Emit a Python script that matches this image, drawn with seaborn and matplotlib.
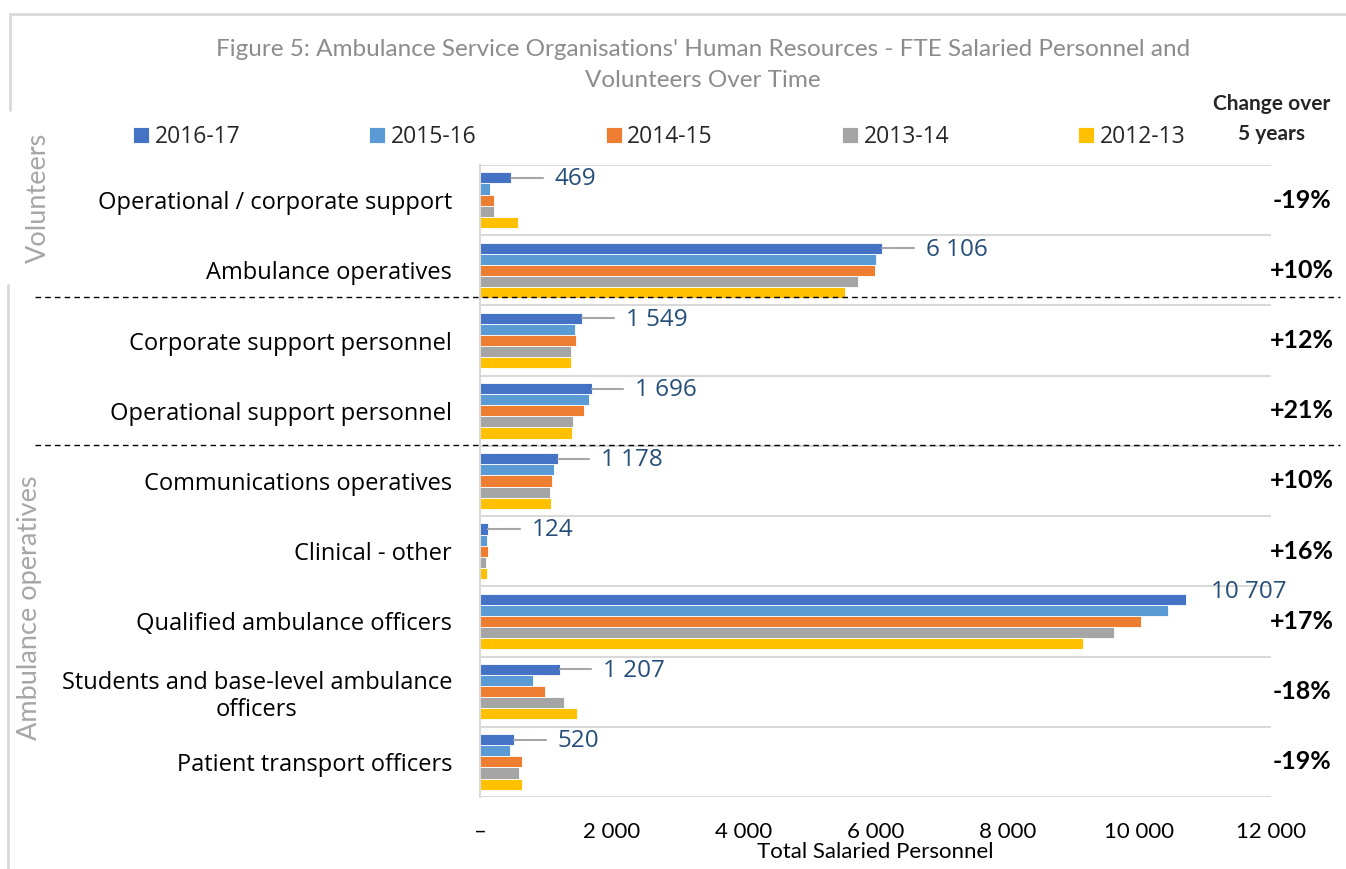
import numpy as np
import pandas as pd
import matplotlib
matplotlib.use("Agg")
import matplotlib.pyplot as plt
import matplotlib.transforms as mtrans
from matplotlib.lines import Line2D
import seaborn as sns

categories = ["Operational / corporate support", "Ambulance operatives",
              "Corporate support personnel", "Operational support personnel",
              "Communications operatives", "Clinical - other",
              "Qualified ambulance officers",
              "Students and base-level ambulance\nofficers",
              "Patient transport officers"]
years = ["2016-17", "2015-16", "2014-15", "2013-14", "2012-13"]
fte_2016_17 = [469, 6106, 1549, 1696, 1178, 124, 10707, 1207, 520]
fte_2015_16 = [150, 6010, 1440, 1650, 1120, 110, 10440, 800, 455]
fte_2014_15 = [210, 5985, 1455, 1575, 1090, 125, 10030, 985, 640]
fte_2013_14 = [210, 5740, 1380, 1410, 1060, 95, 9620, 1270, 590]
fte_2012_13 = [579, 5530, 1383, 1402, 1071, 107, 9151, 1472, 642]
change_5y = ["-19%", "+10%", "+12%", "+21%", "+10%", "+16%", "+17%", "-18%", "-19%"]
colors = ["#4472C4", "#5B9BD5", "#ED7D31", "#A5A5A5", "#FFC000"]

df = pd.DataFrame({
    "category": np.tile(categories, len(years)),
    "year": np.repeat(years, len(categories)),
    "fte": np.concatenate([fte_2016_17, fte_2015_16, fte_2014_15, fte_2013_14, fte_2012_13]),
})

sns.set_theme(style="white")
plt.rcParams["font.family"] = ["Open Sans", "DejaVu Sans"]

fig = plt.figure(figsize=(13.46, 8.69), dpi=100)
ax = fig.add_axes([480 / 1346, 1 - 797 / 869, 791 / 1346, 632 / 869])

sns.barplot(data=df, x="fte", y="category", hue="year", hue_order=years,
            palette=colors, orient="h", width=0.79, saturation=1,
            edgecolor="white", linewidth=0.6, errorbar=None, ax=ax)

handles, labels = ax.get_legend_handles_labels()
ax.get_legend().remove()

ax.set_xlim(0, 12000)
ax.set_ylim(8.5, -0.5)
for b in np.arange(-0.5, 9, 1):
    ax.axhline(b, color="#D9D9D9", lw=1.5, zorder=0)

for s in ["top", "right", "bottom"]:
    ax.spines[s].set_visible(False)
ax.spines["left"].set_color("#D9D9D9")
ax.spines["left"].set_linewidth(1.5)

xt = list(range(0, 12001, 2000))
ax.set_xticks(xt)
ax.set_xticklabels(["–"] + [f"{v:,}".replace(",", " ") for v in xt[1:]],
                   fontfamily="Lato")
ax.tick_params(axis="x", length=0, pad=18, labelsize=16, colors="black")
ax.tick_params(axis="y", length=0, pad=20, labelsize=17, colors="black")
for lbl in ax.get_yticklabels():
    lbl.set_multialignment("center")
ax.set_xlabel("Total Salaried Personnel", fontsize=16, fontfamily="Lato",
              labelpad=0, color="black")
ax.set_ylabel("")

# data labels for 2016-17 with leader lines
off = -0.79 / 2 + 0.79 / 10
for i, v in enumerate(fte_2016_17):
    y = i + off
    txt = f"{v:,}".replace(",", " ")
    if v > 10000:
        ax.text(v + 950, y - 0.1, txt, ha="center", va="center",
                fontsize=17.5, color="#264E7A")
    else:
        ax.plot([v, v + 480], [y, y], color="#A6A6A6", lw=1.5, zorder=1)
        ax.text(v + 660, y + 0.02, txt, ha="left", va="center",
                fontsize=17.5, color="#264E7A")

# change over 5 years column
tr = mtrans.blended_transform_factory(fig.transFigure, ax.transData)
for i, c in enumerate(change_5y):
    fig.text(1302 / 1346, i, c, transform=tr, ha="center", va="center",
             fontsize=18, fontweight="bold", fontfamily="Lato", color="black")
fig.text(1272 / 1346, 1 - 104 / 869, "Change over", ha="center", va="center",
         fontsize=15, fontweight="bold", fontfamily="Lato")
fig.text(1272 / 1346, 1 - 134 / 869, "5 years", ha="center", va="center",
         fontsize=15, fontweight="bold", fontfamily="Lato")

fig.legend(handles, labels, loc="center left",
           bbox_to_anchor=(133 / 1346, 1 - 137 / 869), ncol=5, frameon=False,
           handlelength=0.7, handleheight=0.7, handletextpad=0.25,
           columnspacing=5.62, fontsize=16.5, borderaxespad=0, borderpad=0)

fig.text(0.522, 1 - 65 / 869,
         "Figure 5: Ambulance Service Organisations' Human Resources - FTE Salaried Personnel and\nVolunteers Over Time",
         ha="center", va="center", fontsize=17.5, fontfamily="Lato",
         color="#8C8C8C", linespacing=1.55)

# section labels and separators
fig.text(38 / 1346, 1 - 198 / 869, "Volunteers", rotation=90, ha="center",
         va="center", fontsize=19.5, color="#A6A6A6", fontfamily="Lato")
fig.text(30 / 1346, 1 - 608 / 869, "Ambulance operatives", rotation=90,
         ha="center", va="center", fontsize=19.5, color="#A6A6A6", fontfamily="Lato")
for yy in [297, 445]:
    fig.add_artist(Line2D([35 / 1346, 1340 / 1346], [1 - yy / 869] * 2,
                          transform=fig.transFigure, color="black", lw=1,
                          ls=(0, (4, 3))))

# outer frame fragments
frame_kw = dict(transform=fig.transFigure, color="#D9D9D9", lw=2)
fig.add_artist(Line2D([10 / 1346, 1], [1 - 14 / 869] * 2, **frame_kw))
fig.add_artist(Line2D([10 / 1346] * 2, [1 - 14 / 869, 1 - 110 / 869], **frame_kw))
fig.add_artist(Line2D([8 / 1346] * 2, [1 - 285 / 869, 0], **frame_kw))

fig.savefig("out.png", dpi=100)
